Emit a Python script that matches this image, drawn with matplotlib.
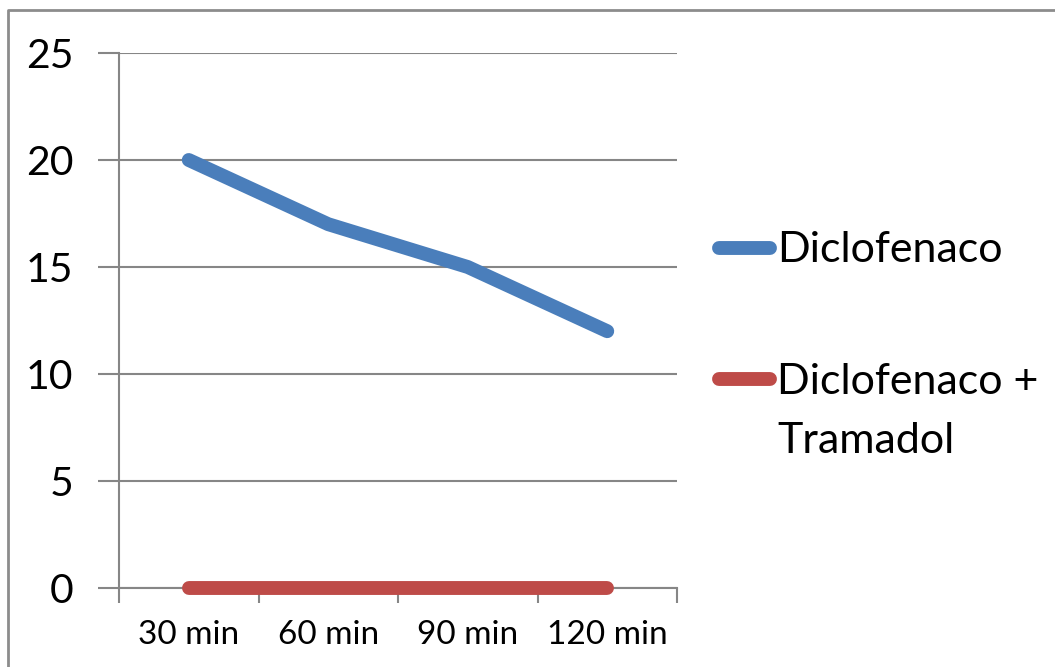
import matplotlib
matplotlib.use("Agg")
import matplotlib.pyplot as plt
from matplotlib.lines import Line2D

plt.rcParams['font.family'] = ['Lato', 'DejaVu Sans']

categories = ["30 min", "60 min", "90 min", "120 min"]
diclofenaco = [20, 17, 15, 12]
diclofenaco_tramadol = [0, 0, 0, 0]
series_names = ["Diclofenaco", "Diclofenaco +\nTramadol"]
colors = ["#4a7ebb", "#be4b48"]
yticks = [0, 5, 10, 15, 20, 25]

W, H = 1055, 667
fig = plt.figure(figsize=(W / 100, H / 100), dpi=100)
ax = fig.add_axes([119 / W, 1 - 588 / H, (677 - 119) / W, (588 - 53) / H])

grid_c = "#868686"
x = list(range(len(categories)))
for vals, c in zip([diclofenaco, diclofenaco_tramadol], colors):
    ax.plot(x, vals, color=c, lw=10, solid_capstyle="round",
            solid_joinstyle="round", zorder=3, clip_on=False)

ax.set_xlim(-0.5, len(categories) - 0.5)
ax.set_ylim(0, 25)
ax.set_yticks(yticks)
ax.set_yticklabels([str(v) for v in yticks], fontsize=29.5)
ax.yaxis.grid(True, color=grid_c, lw=1.5)
ax.tick_params(axis="y", length=15, width=1.5, color=grid_c, pad=18)

ax.set_xticks(x)
ax.set_xticklabels(categories, fontsize=24)
ax.tick_params(axis="x", which="major", length=0, pad=23)
ax.set_xticks([i - 0.5 for i in range(len(categories) + 1)], minor=True)
ax.tick_params(axis="x", which="minor", length=11, width=1.5, color=grid_c)

for s in ["top", "right"]:
    ax.spines[s].set_visible(False)
for s in ["left", "bottom"]:
    ax.spines[s].set_color(grid_c)
    ax.spines[s].set_linewidth(1.5)

# legend drawn in figure pixels
def fx(px):
    return px / W

def fy(py):
    return 1 - py / H

line_step = 59
for name, c, ly, base in zip(series_names, colors, [248, 379], [262, 394]):
    fig.add_artist(Line2D([fx(719), fx(770)], [fy(ly), fy(ly)], color=c, lw=10,
                          solid_capstyle="round"))
    for k, part in enumerate(name.split("\n")):
        fig.text(fx(777), fy(base + k * line_step), part, fontsize=31,
                 va="baseline", ha="left")

# outer chart border
fig.add_artist(Line2D([fx(8), fx(8), fx(1055)], [0, fy(10), fy(10)],
                      color="#8c8c8c", lw=2))

fig.savefig("out.png", dpi=100)
